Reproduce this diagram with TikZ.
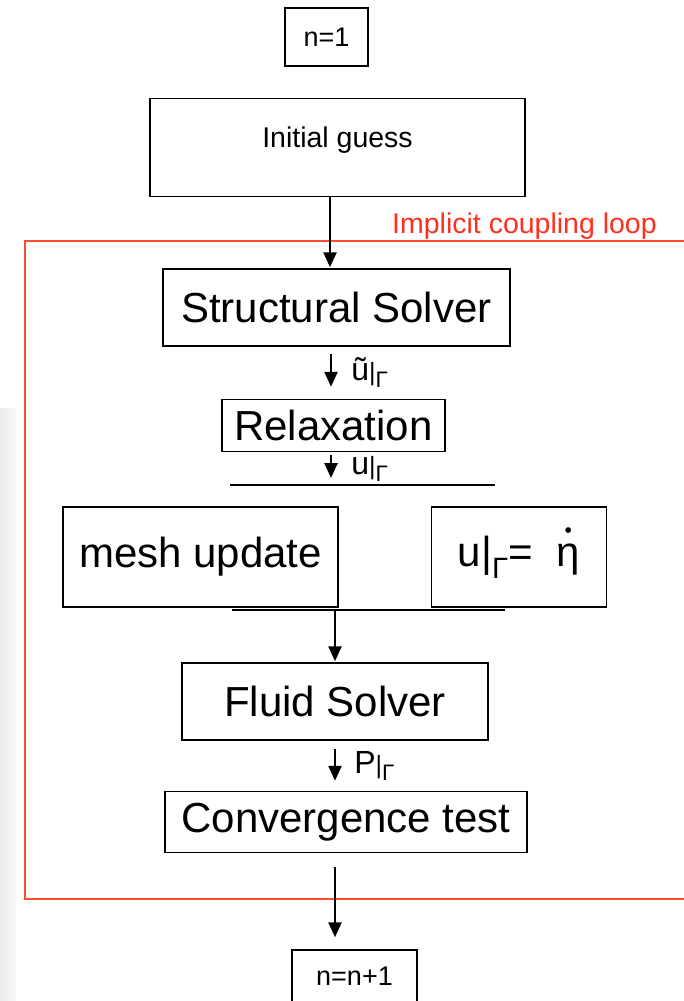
\documentclass[tikz,border=0pt]{standalone}
\usepackage{fontspec}
\setmainfont{Liberation Sans}
\usepackage{graphicx}
\usetikzlibrary{positioning,arrows.meta}
\definecolor{loopred}{HTML}{FF4B2E}
\definecolor{looptext}{HTML}{FF2F1F}
\newcommand{\atG}{{\fontsize{25}{25}\selectfont|}\textsubscript{Γ}}
\newcommand{\etadot}{\ooalign{η\cr\hidewidth\raisebox{0.68em}{\scalebox{0.5}{\textbullet}}\hidewidth\cr}}

\begin{document}
\begin{tikzpicture}[x=1pt, y=-1pt,
  box/.style={draw, line width=1.5pt, inner sep=0pt, font=\fontsize{42}{50}\selectfont},
  sbox/.style={box, font=\fontsize{27}{32}\selectfont},
  arr/.style={-{Triangle[length=15pt,width=13pt]}, line width=2.5pt},
  lbl/.style={font=\fontsize{32}{36}\selectfont, inner sep=0pt},
  sep/.style={line width=1.5pt}]
\useasboundingbox (0,0) rectangle (684,1001);
\shade[left color=black!8, right color=black!3] (0,408) rectangle (16,1001);
% coupling loop frame
\draw[loopred, line width=2.5pt] (700,241) -| (25,899) -- (700,899);
\node[anchor=base west, text=looptext, inner sep=0pt, font=\fontsize{28.5}{32}\selectfont] (looplbl) at (392,233) {Implicit coupling loop};
\node[sbox, minimum width=83pt, minimum height=58pt] (n1) at (326.5,37) {n=1};
\node[sbox, minimum width=375pt, minimum height=98pt, text depth=20pt, font=\fontsize{28.5}{32}\selectfont, below=31pt of n1, xshift=11pt] (init) {Initial guess};
\node[box, minimum width=347pt, minimum height=77pt, below=71pt of init, xshift=-1pt] (ss) {Structural Solver};
\node[box, minimum width=223pt, minimum height=52pt, below=52pt of ss, xshift=-3pt] (rel) {Relaxation};
\node[box, minimum width=275pt, minimum height=100pt, below=54pt of rel, xshift=-133pt] (mesh) {mesh update};
\node[box, minimum width=175pt, minimum height=100pt, right=92pt of mesh] (eta) {u|\textsubscript{Γ}=~~\etadot};
\node[box, minimum width=306pt, minimum height=77pt] (fluid) at (335,701.5) {Fluid Solver};
\node[box, minimum width=362pt, minimum height=61pt, below=50pt of fluid, xshift=11pt] (conv) {Convergence test};
\node[sbox, minimum width=125pt, minimum height=52pt, below=96pt of conv, xshift=8.5pt] (nn) {n=n+1};
% split / join bars
\coordinate (l1w) at (230,485);
\coordinate (l1e) at (495,485);
\coordinate (l1m) at (331,485);
\coordinate (l2w) at (232,610);
\coordinate (l2e) at (505,610);
\coordinate (l2m) at (335,610);
\draw[sep] (l1w) -- (l1e);
\draw[sep] (l2w) -- (l2e);
\draw[arr, shorten >=1pt] ([xshift=-7.5pt]init.south) -- ([xshift=-6.5pt]ss.north);
\draw[arr, shorten <=7pt, shorten >=12pt] (ss.south -| l1m) -- (rel.north -| l1m)
  node[lbl, midway, right=19pt] (ut) {ũ\atG};
\draw[arr, shorten <=3pt, shorten >=7pt] (rel.south -| l1m) -- (l1m)
  node[lbl, midway, right=19pt] (ug) {u\atG};
\draw[arr, shorten >=1pt] (l2m) -- (fluid.north -| l2m);
\draw[arr, shorten <=8pt, shorten >=10pt] (fluid.south -| l2m) -- (conv.north -| l2m)
  node[lbl, midway, right=18pt] (pg) {P\atG};
\draw[arr, shorten <=14pt, shorten >=12pt] (conv.south -| l2m) -- (nn.north -| l2m);
\end{tikzpicture}
\end{document}
